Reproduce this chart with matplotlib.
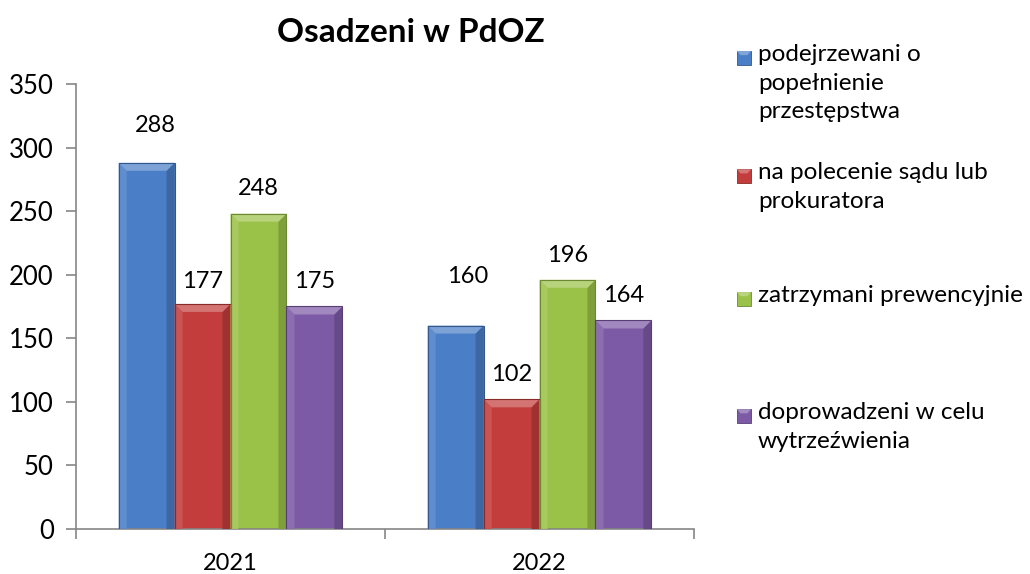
import numpy as np
import matplotlib.pyplot as plt
from matplotlib.patches import Polygon, Rectangle
from matplotlib.colors import to_rgb

plt.rcParams['font.family'] = ['Lato', 'DejaVu Sans']

years = ["2021", "2022"]
series_names = [
    "podejrzewani o\npopełnienie\nprzestępstwa",
    "na polecenie sądu lub\nprokuratora",
    "zatrzymani prewencyjnie",
    "doprowadzeni w celu\nwytrzeźwienia",
]
suspected = [288, 160]
court_order = [177, 102]
preventive = [248, 196]
sobering = [175, 164]
series_values = [suspected, court_order, preventive, sobering]
face_colors = ["#4a7ec6", "#c23d3b", "#9bc248", "#7c5aa5"]

# (dx, dy) offsets of each value label in points, per series and year
label_offsets = [
    [(6.5, 22), (8.5, 31)],
    [(0, 11.5), (0, 13)],
    [(0, 13.5), (0, 12.5)],
    [(0, 13.5), (0, 13)],
]


def shade(color, k):
    r, g, b = to_rgb(color)
    if k >= 0:
        return (r + (1 - r) * k, g + (1 - g) * k, b + (1 - b) * k)
    return (r * (1 + k), g * (1 + k), b * (1 + k))


def bevel_bar(ax, patch, color, dx=0.026, dy=6.3):
    # draw the bevelled look on top of a plain bar
    x0 = patch.get_x()
    w = patch.get_width()
    h = patch.get_height()
    x1 = x0 + w
    ax.add_patch(Polygon([(x0, 0), (x0 + dx, 0), (x0 + dx, h - dy), (x0, h)],
                         closed=True, facecolor=shade(color, 0.12), edgecolor="none", zorder=3))
    ax.add_patch(Polygon([(x1, 0), (x1 - dx, 0), (x1 - dx, h - dy), (x1, h)],
                         closed=True, facecolor=shade(color, -0.18), edgecolor="none", zorder=3))
    ax.add_patch(Polygon([(x0, h), (x1, h), (x1 - dx, h - dy), (x0 + dx, h - dy)],
                         closed=True, facecolor=shade(color, 0.28), edgecolor="none", zorder=3))
    ax.add_patch(Rectangle((x0, 0), w, h, facecolor="none",
                           edgecolor=shade(color, -0.3), linewidth=0.8, zorder=4))


fig = plt.figure(figsize=(10.3, 5.74), dpi=100)
ax = fig.add_axes([0.0738, 0.0784, 0.6, 0.7753])

x = np.arange(len(years))
bar_w = 0.181
for i, (vals, col) in enumerate(zip(series_values, face_colors)):
    pos = x + (i - 1.5) * bar_w
    bars = ax.bar(pos, vals, width=bar_w, color=col, edgecolor="none", zorder=2)
    for p, v, off in zip(bars, vals, label_offsets[i]):
        bevel_bar(ax, p, col)
        ax.annotate(str(v), (p.get_x() + p.get_width() / 2, v),
                    xytext=off, textcoords="offset points",
                    ha="center", va="baseline", fontsize=17, color="black")

ax.set_xlim(-0.5, 1.5)
ax.set_ylim(0, 350)
ax.set_yticks(np.arange(0, 351, 50))
ax.set_xticks([-0.5, 0.5, 1.5], minor=False)
ax.set_xticklabels([])
ax.set_xticks(x, minor=True)
ax.set_xticklabels(years, minor=True)
ax.tick_params(axis="x", which="minor", length=0, pad=17, labelsize=17)
ax.tick_params(axis="x", which="major", length=7, color="#868686", width=1.2)
ax.tick_params(axis="y", length=7, color="#868686", width=1.2, labelsize=18.5, pad=9)
for side in ["top", "right"]:
    ax.spines[side].set_visible(False)
for side in ["left", "bottom"]:
    ax.spines[side].set_color("#868686")
    ax.spines[side].set_linewidth(1.2)

fig.text(0.399, 0.944, "Osadzeni w PdOZ", ha="center", va="center",
         fontsize=24, fontweight="bold")

# legend drawn by hand so the entries keep their uneven spacing
legend_y = [0.899, 0.693, 0.479, 0.275]
sq_w = 14 / 1030
sq_h = 14 / 574
for name, col, ly in zip(series_names, face_colors, legend_y):
    fig.patches.append(Rectangle((0.7155, ly - sq_h / 2), sq_w, sq_h,
                                 transform=fig.transFigure, facecolor=col,
                                 edgecolor=shade(col, -0.3), linewidth=0.6))
    fig.patches.append(Polygon([(0.7155, ly + sq_h / 2), (0.7155 + sq_w, ly + sq_h / 2),
                                (0.7155 + sq_w * 0.75, ly + sq_h * 0.2),
                                (0.7155 + sq_w * 0.25, ly + sq_h * 0.2)],
                               closed=True, transform=fig.transFigure,
                               facecolor=shade(col, 0.3), edgecolor="none"))
    fig.text(0.736, ly + 0.024, name, ha="left", va="top", fontsize=17.5,
             linespacing=1.45)

fig.savefig("out.png", dpi=100)
